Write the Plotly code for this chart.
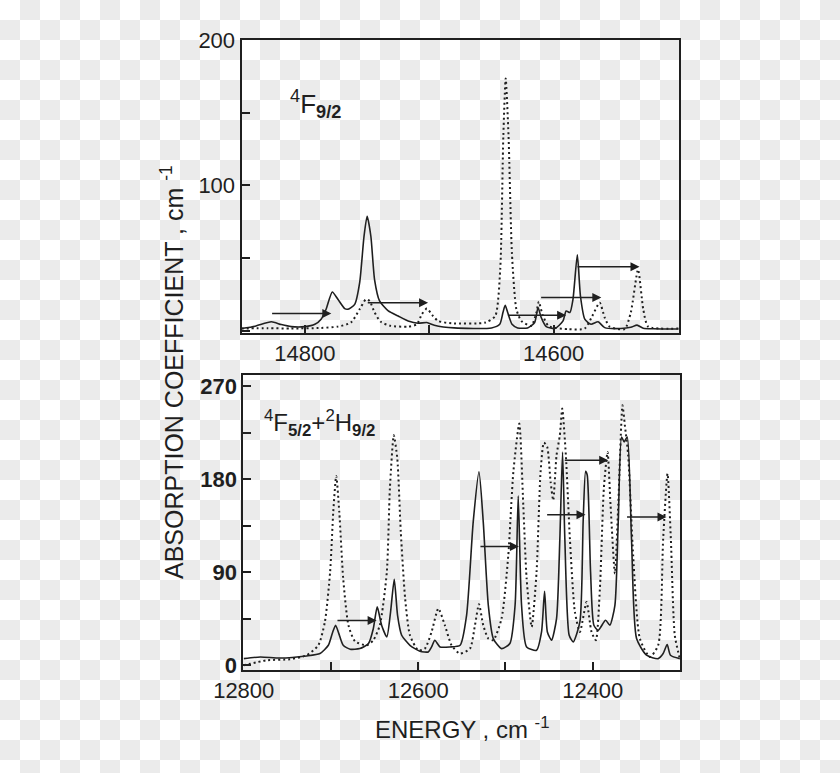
import base64
import plotly.graph_objects as go

# ---------------- data ----------------
# Top panel: 4F9/2
top_solid_x = [14851, 14840, 14827, 14819, 14811, 14800, 14792, 14787, 14783, 14778, 14773.5, 14768,
               14765.4, 14760, 14756, 14752.5, 14750, 14747, 14744, 14740, 14733, 14725, 14717, 14709,
               14702, 14696, 14680, 14650, 14643.4, 14640.8, 14639, 14637, 14633.5, 14629, 14621,
               14615.3, 14612.6, 14610, 14606, 14599, 14592.5, 14590, 14587, 14584.5, 14581, 14578.5,
               14575, 14570, 14564.3, 14559, 14546, 14538, 14533, 14528, 14520, 14499.5]
top_solid_y = [1.4, 3.0, 6.0, 4.1, 2.7, 2.7, 4.3, 7.8, 14.7, 26.6, 21.5, 15.1,
               14.7, 18.0, 33.0, 65.0, 78.8, 65.0, 35.0, 20.4, 13.5, 10.0, 6.6, 5.0,
               5.5, 3.7, 1.8, 1.8, 4.3, 12.4, 17.4, 12.4, 4.3, 1.8, 1.8,
               5.5, 15.8, 8.9, 2.7, 1.4, 6.6, 13.5, 12.4, 21.5, 52.2, 23.8,
               7.8, 4.3, 6.0, 2.0, 1.4, 2.2, 3.7, 1.6, 1.2, 1.0]

top_dot_x = [14851, 14830, 14811, 14787, 14773.5, 14763, 14756, 14751, 14748, 14744, 14739, 14731,
             14717, 14710, 14706, 14702, 14697, 14693, 14682, 14655, 14647, 14643, 14640.5, 14638.6,
             14636.3, 14633.6, 14630, 14626, 14618, 14614, 14612, 14609, 14604, 14588, 14575, 14569,
             14563, 14559, 14555, 14543, 14538, 14532.2, 14528, 14524, 14499.5]
top_dot_y = [1.4, 1.6, 1.4, 1.8, 2.7, 5.5, 14.7, 21.5, 20.4, 12.4, 6.0, 3.2,
             2.7, 4.3, 11.2, 15.1, 10.0, 6.6, 5.0, 5.5, 10.0, 42.0, 134.0, 173.8,
             134.0, 53.6, 14.7, 6.6, 3.2, 12.0, 19.9, 11.0, 3.0, 0.9, 1.4, 10.0,
             19.2, 8.9, 2.7, 0.9, 12.4, 42.0, 14.7, 2.7, 1.4]

top_arrow_from = [14827.6, 14750.7, 14638.0, 14611.3, 14582.0]
top_arrow_to = [14778.8, 14701.0, 14590.0, 14561.7, 14531.0]
top_arrow_y = [11.7, 19.2, 10.5, 22.7, 44.0]

# Bottom panel: 4F5/2 + 2H9/2
bot_solid_x = [12800, 12781, 12758.5, 12728, 12712.6, 12703, 12698, 12694.7, 12691, 12686, 12678, 12667,
               12657, 12651.5, 12647, 12642, 12636, 12631.7, 12627.5, 12623.7, 12619, 12609.5, 12598,
               12588.5, 12584.7, 12581, 12575, 12563.7, 12552, 12544.6, 12537, 12530.4, 12525.5,
               12519.7, 12514, 12504.5, 12495, 12489, 12485.4, 12481.6, 12475.8, 12464.4, 12458.7,
               12455.2, 12452, 12447.2, 12441.5, 12437.7, 12434.6, 12432, 12427, 12422.4, 12414.7,
               12411, 12408.2, 12406.3, 12402.5, 12398.7, 12393.7, 12385.3, 12380.4, 12374.6, 12370.8,
               12367, 12364, 12360.5, 12355.6, 12349.8, 12338.4, 12325, 12319.3, 12314.7, 12310.9, 12300.2]
bot_solid_y = [6.4, 8.0, 7.0, 9.0, 11.3, 19.3, 32.2, 38.7, 30.6, 19.3, 15.5, 16.1,
               21.0, 35.4, 56.4, 38.7, 27.4, 51.6, 83.1, 48.3, 29.0, 19.3, 13.5,
               12.9, 17.7, 24.2, 17.7, 17.7, 19.3, 48.3, 138.6, 186.9, 138.6,
               58.0, 25.8, 16.1, 21.0, 58.0, 163.7, 58.0, 17.7, 14.5, 32.2,
               71.5, 32.2, 24.2, 45.1, 122.4, 206.2, 122.4, 29.0, 22.6, 41.9,
               138.6, 187.5, 183.7, 90.2, 38.7, 33.8, 43.5, 38.7, 58.0, 138.6,
               220.7, 215.9, 220.7, 122.4, 25.8, 9.7, 6.4, 11.3, 20.0, 9.7, 6.4]

bot_dot_x = [12800, 12773.7, 12747, 12728, 12714.5, 12707, 12701, 12697.4, 12694, 12690.5, 12686, 12680,
             12672.5, 12659, 12651.5, 12644, 12636, 12632.5, 12628, 12624, 12620, 12615, 12609.5,
             12600, 12592.4, 12584.7, 12577, 12569.5, 12561.8, 12552.3, 12540.7, 12535, 12530.4,
             12525.5, 12519.7, 12514, 12504.5, 12496.8, 12491, 12484.2, 12479.6, 12475.8, 12470,
             12464.4, 12459.8, 12456, 12452.2, 12448.3, 12445.3, 12441.5, 12437.7, 12435, 12430.8,
             12426.2, 12420.5, 12414.7, 12407.1, 12401.4, 12396.4, 12391.8, 12387.3, 12383, 12379.6,
             12374.6, 12370.8, 12365.9, 12363.2, 12359.4, 12353.7, 12346, 12334.6, 12325, 12319.3,
             12314.3, 12310.5, 12306, 12300.2]
bot_dot_y = [0.0, 4.8, 5.8, 9.7, 19.3, 41.9, 90.2, 148.2, 183.0, 148.2, 83.8, 38.7,
             23.2, 19.3, 24.2, 38.7, 90.2, 170.8, 222.3, 199.8, 128.9, 64.4, 29.0,
             14.5, 16.1, 32.2, 54.8, 38.7, 19.3, 11.3, 16.1, 38.7, 59.0,
             38.7, 25.8, 24.2, 45.1, 106.3, 186.9, 233.6, 154.7, 83.8, 37.0,
             90.2, 186.9, 215.2, 211.0, 177.2, 159.5, 203.0, 222.3, 248.1, 203.0,
             122.4, 51.6, 32.2, 61.2, 32.2, 24.2, 74.1, 170.8, 206.2, 154.7,
             88.6, 154.7, 251.3, 232.0, 203.0, 106.3, 25.8, 8.0, 19.3, 122.4,
             185.3, 122.4, 29.0, 6.4]

bot_arrow_from = [12694.3, 12530.4, 12454.0, 12433.8, 12362.4]
bot_arrow_to = [12647.7, 12484.6, 12408.3, 12382.3, 12315.5]
bot_arrow_y = [43.2, 114.7, 145.6, 198.2, 143.4]

# labelled ticks and unlabelled (minor) tick steps
top_xticks = [14800, 14600]
top_xlabels = ["14800", "14600"]
top_xminor_step = 100
top_yticks = [100, 200]
top_ylabels = ["100", "200"]
top_yminor_step = 50
bot_xticks = [12800, 12600, 12400]
bot_xlabels = ["12800", "12600", "12400"]
bot_xminor_step = 100
bot_yticks = [0, 90, 180, 270]
bot_ylabels = ["<b>0</b>", "<b>90</b>", "<b>180</b>", "<b>270</b>"]
bot_yminor_step = 45

# ---------------- figure ----------------
INK = "#1f1f1f"
FONT = "Liberation Sans, Arial, sans-serif"
W, H = 840, 773

fig = go.Figure()
solid = dict(color=INK, width=1.6, shape="spline", smoothing=0.6)
dotted = dict(color=INK, width=2, dash="2px,3px", shape="spline", smoothing=0.6)
fig.add_trace(go.Scatter(x=top_solid_x, y=top_solid_y, mode="lines", line=solid, xaxis="x", yaxis="y"))
fig.add_trace(go.Scatter(x=top_dot_x, y=top_dot_y, mode="lines", line=dotted, xaxis="x", yaxis="y"))
fig.add_trace(go.Scatter(x=bot_solid_x, y=bot_solid_y, mode="lines", line=solid, xaxis="x2", yaxis="y2"))
fig.add_trace(go.Scatter(x=bot_dot_x, y=bot_dot_y, mode="lines", line=dotted, xaxis="x2", yaxis="y2"))

axis_common = dict(showline=True, linecolor=INK, linewidth=2, mirror=True, ticks="inside",
                   ticklen=8, tickwidth=1.5, tickcolor=INK, showgrid=False, zeroline=False,
                   automargin=False, tickfont=dict(family=FONT, size=22, color=INK))


def minor(step):
    return dict(ticks="inside", ticklen=8, tickwidth=1.5, tickcolor=INK, dtick=step, tick0=0,
                showgrid=False)


annotations = []
for a, b, yv in zip(top_arrow_from, top_arrow_to, top_arrow_y):
    annotations.append(dict(x=b, y=yv, ax=a, ay=yv, xref="x", yref="y", axref="x", ayref="y",
                            text="", showarrow=True, arrowhead=2, arrowsize=1.2, arrowwidth=1.5,
                            arrowcolor=INK, standoff=0, startstandoff=0))
for a, b, yv in zip(bot_arrow_from, bot_arrow_to, bot_arrow_y):
    annotations.append(dict(x=b, y=yv, ax=a, ay=yv, xref="x2", yref="y2", axref="x2", ayref="y2",
                            text="", showarrow=True, arrowhead=2, arrowsize=1.2, arrowwidth=1.5,
                            arrowcolor=INK, standoff=0, startstandoff=0))

annotations.append(dict(x=288 / W, y=1 - 104 / H, xref="paper", yref="paper", xanchor="left",
                        yanchor="middle", showarrow=False,
                        text="<sup>4</sup>F<sub><b>9/2</b></sub>",
                        font=dict(family=FONT, size=26, color=INK)))
annotations.append(dict(x=262 / W, y=1 - 423 / H, xref="paper", yref="paper", xanchor="left",
                        yanchor="middle", showarrow=False,
                        text="<sup>4</sup>F<sub><b>5/2</b></sub>+<sup>2</sup>H<sub><b>9/2</b></sub>",
                        font=dict(family=FONT, size=24, color=INK)))
annotations.append(dict(x=172 / W, y=1 - 372 / H, xref="paper", yref="paper", xanchor="center",
                        yanchor="middle", showarrow=False, textangle=-90,
                        text="ABSORPTION COEFFICIENT , cm <sup>-1</sup>",
                        font=dict(family=FONT, size=25, color=INK)))
annotations.append(dict(x=462 / W, y=1 - 728 / H, xref="paper", yref="paper", xanchor="center",
                        yanchor="middle", showarrow=False,
                        text="ENERGY , cm <sup>-1</sup>",
                        font=dict(family=FONT, size=24, color=INK)))

svg = ('<svg xmlns="http://www.w3.org/2000/svg" width="840" height="773">'
       '<defs><pattern id="p" width="40" height="40" patternUnits="userSpaceOnUse">'
       '<rect width="40" height="40" fill="#ffffff"/>'
       '<rect x="20" y="0" width="20" height="20" fill="#ebebeb"/>'
       '<rect x="0" y="20" width="20" height="20" fill="#ebebeb"/>'
       '</pattern></defs><rect width="840" height="773" fill="url(#p)"/></svg>')
bg_src = "data:image/svg+xml;base64," + base64.b64encode(svg.encode()).decode()

fig.update_layout(
    width=W, height=H, autosize=False,
    margin=dict(l=0, r=0, t=0, b=0, pad=0, autoexpand=False),
    paper_bgcolor="white", plot_bgcolor="rgba(0,0,0,0)",
    showlegend=False,
    xaxis=dict(domain=[241.5 / W, 678.7 / W], anchor="y", range=[14851, 14499.5],
               tickvals=top_xticks, ticktext=top_xlabels, ticklabelstandoff=0,
               minor=minor(top_xminor_step), **axis_common),
    yaxis=dict(domain=[1 - 332.7 / H, 1 - 40 / H], anchor="x", range=[-1.5, 200.3],
               tickvals=top_yticks, ticktext=top_ylabels,
               minor=minor(top_yminor_step), **axis_common),
    xaxis2=dict(domain=[243.3 / W, 680 / W], anchor="y2", range=[12800.5, 12300],
                tickvals=bot_xticks, ticktext=bot_xlabels, ticklabelstandoff=0,
                minor=minor(bot_xminor_step), **axis_common),
    yaxis2=dict(domain=[1 - 669.7 / H, 1 - 375 / H], anchor="x2", range=[-4.3, 280.6],
                tickvals=bot_yticks, ticktext=bot_ylabels,
                minor=minor(bot_yminor_step), **axis_common),
    annotations=annotations,
    images=[dict(source=bg_src, xref="paper", yref="paper", x=0, y=1, sizex=1, sizey=1,
                 xanchor="left", yanchor="top", sizing="stretch", layer="below")],
)

fig.write_html("out.html")
